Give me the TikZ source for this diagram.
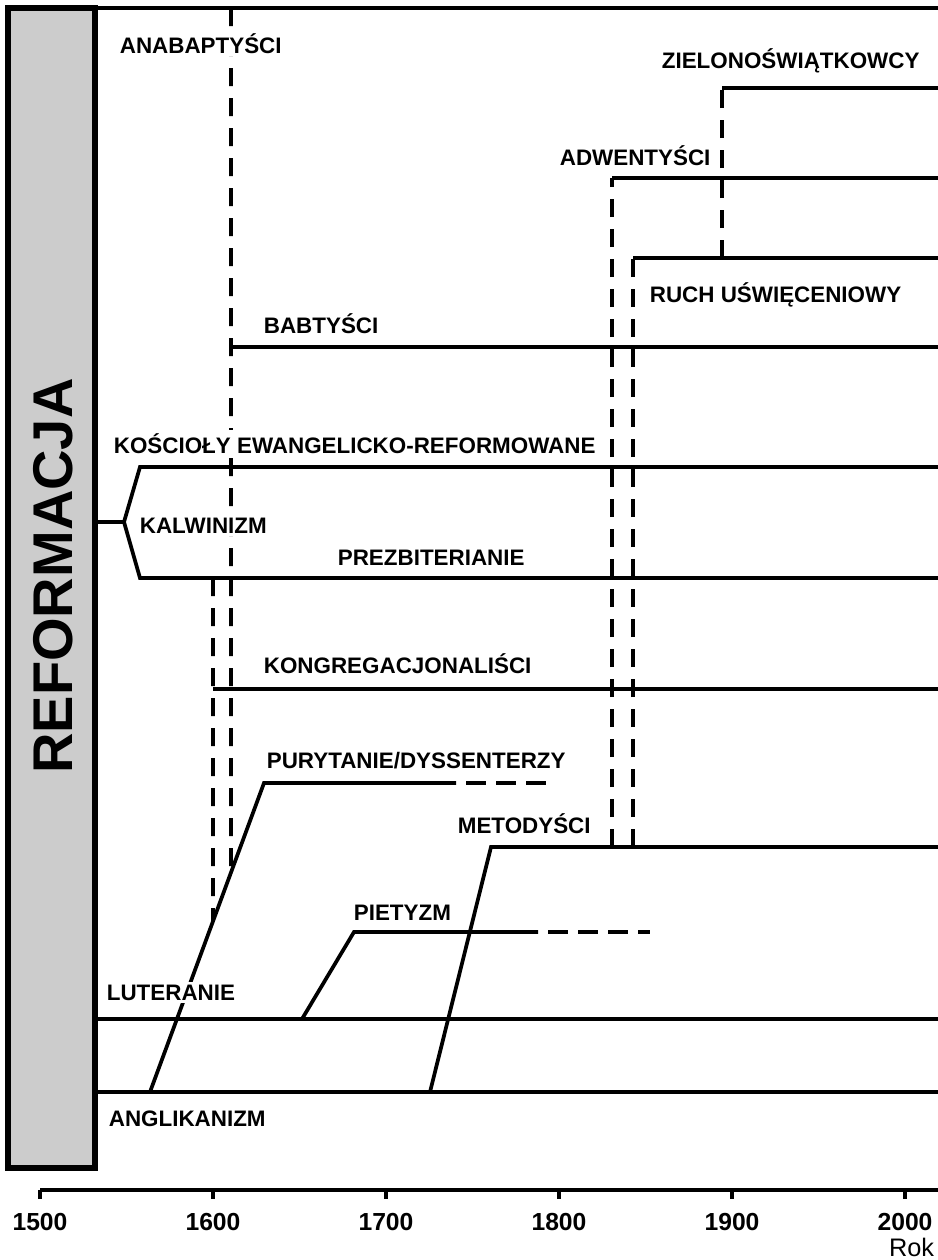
\documentclass[tikz,border=0pt]{standalone}
\usepackage{fontspec}
\setmainfont{Liberation Sans}
\usetikzlibrary{calc}

\begin{document}
\begin{tikzpicture}[x=0.75pt,y=-0.75pt,line width=2.8pt,
    church/.style={font=\bfseries\fontsize{16.8}{18}\selectfont,fill=white,
      inner xsep=0pt,inner ysep=2pt,anchor=base west},
    trace/.style={dash pattern=on 13.5pt off 9pt},
    fading line/.style={dash pattern=on 15pt off 7.5pt,dash phase=15pt},
    year label/.style={font=\bfseries\fontsize{18.5}{20}\selectfont,inner sep=0pt}]
  \def\xend{938}

  \colorlet{panel}{black!20}

  \useasboundingbox (0,0) rectangle (938,1260);

  \draw [line width=4pt,fill=panel] (8,8) rectangle (95,1168);
  \node [rotate=90,font=\bfseries\fontsize{42}{42}\selectfont,inner sep=0pt]
    (reform) at (53,576) {REFORMACJA};
  \draw [line width=3.5pt] (8,8) -- (\xend,8);

  \coordinate (lut0) at (95,1019);  \coordinate (lut1) at (\xend,1019);
  \coordinate (ang0) at (95,1092);  \coordinate (ang1) at (\xend,1092);
  \coordinate (kal0) at (95,522);   \coordinate (kal1) at (124,522);
  \coordinate (ewa0) at (140,467);  \coordinate (ewa1) at (\xend,467);
  \coordinate (pre0) at (140,578);  \coordinate (pre1) at (\xend,578);
  \coordinate (pur0) at (150,1092); \coordinate (pur1) at (264,783);
  \coordinate (pur2) at (456,783);  \coordinate (pur3) at (548,783);
  \coordinate (pie0) at (302,1019); \coordinate (pie1) at (354,932);
  \coordinate (pie2) at (538,932);  \coordinate (pie3) at (650,932);
  \coordinate (met0) at (430,1092); \coordinate (met1) at (491,847);
  \coordinate (met2) at (\xend,847);
  \coordinate (ana0) at (231,8);
  \coordinate (bab0) at (231,347);  \coordinate (bab1) at (\xend,347);
  \coordinate (kon0) at (213,578);  \coordinate (kon1) at (213,689);
  \coordinate (kon2) at (\xend,689);
  \coordinate (adw0) at (612,847);  \coordinate (adw1) at (612,178);
  \coordinate (adw2) at (\xend,178);
  \coordinate (ruc0) at (633,847);  \coordinate (ruc1) at (633,258);
  \coordinate (ruc2) at (\xend,258);
  \coordinate (zie0) at (722,258);  \coordinate (zie1) at (722,88);
  \coordinate (zie2) at (\xend,88);

  % dashed descent lines
  \draw [trace] (ana0) -- (intersection of ana0--bab0 and pur0--pur1);
  \draw [trace] (kon0) -- (intersection of kon0--kon1 and pur0--pur1);
  \draw [trace] (adw0) -- (adw1);
  \draw [trace] (ruc0) -- (ruc1);
  \draw [trace] (zie0) -- (zie1);

  \draw (lut0) -- (lut1);
  \draw (ang0) -- (ang1);
  \draw (kal0) -- (kal1) -- (ewa0) -- (ewa1);
  \draw (kal1) -- (pre0) -- (pre1);
  \draw (pur0) -- (pur1) -- (pur2);
  \draw [fading line] (pur2) -- (pur3);
  \draw (pie0) -- (pie1) -- (pie2);
  \draw [fading line] (pie2) -- (pie3);
  \draw (met0) -- (met1) -- (met2);
  \draw (bab0) -- (bab1);
  \draw (kon1) -- (kon2);
  \draw (adw1) -- (adw2);
  \draw (ruc1) -- (ruc2);
  \draw (zie1) -- (zie2);

  \node [church] (anabaptysci) at (118,53)   {ANABAPTYŚCI};
  \node [church] (zielono)     at (660,68)   {ZIELONOŚWIĄTKOWCY};
  \node [church] (adwentysci)  at (558,165)  {ADWENTYŚCI};
  \node [church] (uswiecenie)  at (648,302)  {RUCH UŚWIĘCENIOWY};
  \node [church] (babtysci)    at (262,333)  {BABTYŚCI};
  \node [church] (ewangelicy)  at (112,453)  {KOŚCIOŁY EWANGELICKO-REFORMOWANE};
  \node [church] (kalwinizm)   at (138,533)  {KALWINIZM};
  \node [church] (prezbiter)   at (336,565)  {PREZBITERIANIE};
  \node [church] (kongregacja) at (262,673)  {KONGREGACJONALIŚCI};
  \node [church] (purytanie)   at (265,768)  {PURYTANIE/DYSSENTERZY};
  \node [church] (metodysci)   at (456,833)  {METODYŚCI};
  \node [church] (pietyzm)     at (352,920)  {PIETYZM};
  \node [church] (luteranie)   at (105,1000) {LUTERANIE};
  \node [church] (anglikanizm) at (107,1126) {ANGLIKANIZM};

  % time axis
  \coordinate (axis0) at (40,1190);
  \coordinate (axis1) at (\xend,1190);
  \draw (axis0) -- (axis1);
  \foreach \year [count=\i from 0] in {1500,1600,...,2000} {
    \draw ($(axis0)+(173*\i,0)$) -- ++(0,9);
    \node [year label] (y\year) at ($(axis0)+(173*\i,32)$) {\year};
  }
  \node [font=\fontsize{19}{19}\selectfont,inner sep=0pt,anchor=base east]
    (rok) at (936,1256) {Rok};
\end{tikzpicture}
\end{document}
